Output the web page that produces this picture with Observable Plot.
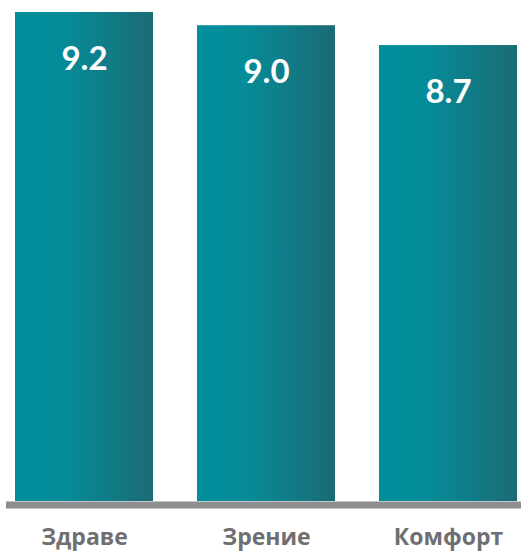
<!DOCTYPE html>
<html>
<head>
<meta charset="utf-8">
<script src="https://cdn.jsdelivr.net/npm/d3@7"></script>
<script src="https://cdn.jsdelivr.net/npm/@observablehq/plot@0.6"></script>
<style>
  html, body { margin: 0; padding: 0; background: #fff; }
  #chart svg { display: block; }
</style>
</head>
<body>
<div id="chart"></div>
<script>
const categories = ["Здраве", "Зрение", "Комфорт"];
const values = [9.2, 9.0, 8.7];
const labels = ["9.2", "9.0", "8.7"];
const yMin = 1.8;

const data = categories.map((c, i) => ({category: c, value: values[i], label: labels[i]}));

function gradientDefs() {
  const ns = "http://www.w3.org/2000/svg";
  const defs = document.createElementNS(ns, "defs");
  const lg = document.createElementNS(ns, "linearGradient");
  lg.setAttribute("id", "barGrad");
  lg.setAttribute("x1", "0"); lg.setAttribute("x2", "1");
  lg.setAttribute("y1", "0"); lg.setAttribute("y2", "0");
  [["0%", "#008f9c"], ["35%", "#058c98"], ["100%", "#1b6b75"]].forEach(([o, c]) => {
    const s = document.createElementNS(ns, "stop");
    s.setAttribute("offset", o); s.setAttribute("stop-color", c);
    lg.appendChild(s);
  });
  defs.appendChild(lg);
  return defs;
}

const chart = Plot.plot({
  width: 521,
  height: 551,
  marginLeft: 15,
  marginRight: 4,
  marginTop: 12,
  marginBottom: 50,
  style: {fontFamily: "Lato, sans-serif", background: "#fff"},
  x: {domain: categories, paddingInner: 0.2418, paddingOuter: 0, label: null},
  y: {domain: [yMin, 9.2], axis: null},
  marks: [
    gradientDefs,
    Plot.barY(data, {x: "category", y1: yMin, y2: "value", fill: "url(#barGrad)"}),
    Plot.ruleY([yMin], {stroke: "#8c8e91", strokeWidth: 7, dy: 3.5, insetLeft: -9, insetRight: -4}),
    Plot.text(data, {x: "category", y: "value", text: "label", fill: "#ffffff",
      fontSize: 33, fontWeight: "bold", dy: 47, fontFamily: "Lato, sans-serif"}),
    Plot.axisX({tickSize: 0, tickPadding: 27, fontSize: 23, fontWeight: "bold", color: "#6f6f71", label: null,
      fontFamily: "'Open Sans', sans-serif"})
  ]
});
document.getElementById("chart").appendChild(chart);
</script>
</body>
</html>
